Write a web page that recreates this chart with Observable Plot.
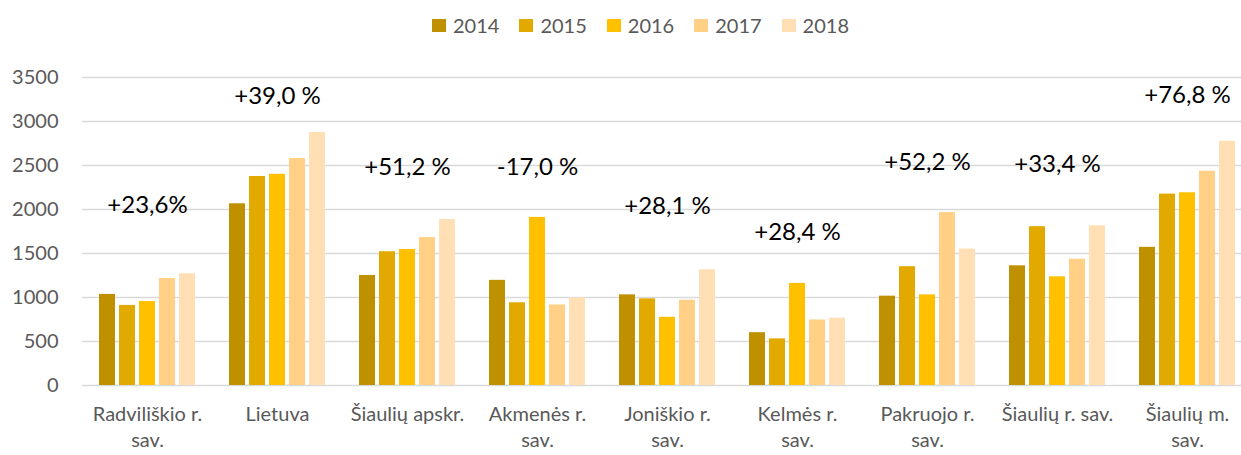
<!DOCTYPE html>
<html><head><meta charset="utf-8">
<script src="https://cdn.jsdelivr.net/npm/d3@7"></script>
<script src="https://cdn.jsdelivr.net/npm/@observablehq/plot@0.6"></script>
<style>
body{margin:0;background:#fff;font-family:Lato,sans-serif;overflow:hidden;}
#legend{height:44px;box-sizing:border-box;padding-top:6px;padding-left:40px;display:flex;justify-content:center;align-items:center;gap:20px;font-size:20px;color:#595959;}
.item{display:flex;align-items:center;gap:7px;line-height:1;}
.sw{width:14px;height:13px;display:inline-block;}
</style></head><body>
<div id="legend"></div>
<div id="chart"></div>
<script>
const categories = ["Radviliškio r. sav.", "Lietuva", "Šiaulių apskr.", "Akmenės r. sav.", "Joniškio r. sav.", "Kelmės r. sav.", "Pakruojo r. sav.", "Šiaulių r. sav.", "Šiaulių m. sav."];
const tickLabels = ["Radviliškio r.\nsav.", "Lietuva", "Šiaulių apskr.", "Akmenės r.\nsav.", "Joniškio r.\nsav.", "Kelmės r.\nsav.", "Pakruojo r.\nsav.", "Šiaulių r. sav.", "Šiaulių m.\nsav."];
const years = ["2014", "2015", "2016", "2017", "2018"];
const v2014 = [1035, 2065, 1250, 1195, 1030, 600, 1015, 1360, 1570];
const v2015 = [910, 2375, 1520, 940, 985, 530, 1350, 1805, 2175];
const v2016 = [955, 2400, 1545, 1910, 775, 1160, 1030, 1235, 2190];
const v2017 = [1215, 2580, 1680, 915, 970, 745, 1965, 1435, 2435];
const v2018 = [1270, 2875, 1885, 995, 1315, 765, 1550, 1815, 2775];
const changeLabels = ["+23,6%", "+39,0 %", "+51,2 %", "-17,0 %", "+28,1 %", "+28,4 %", "+52,2 %", "+33,4 %", "+76,8 %"];
const changeLabelY = [2050, 3290, 2480, 2480, 2040, 1740, 2540, 2510, 3300];
const yTicks = [0, 500, 1000, 1500, 2000, 2500, 3000, 3500];
const colors = ["#BF9000", "#E2AA00", "#FFC000", "#FFD085", "#FFDFB3"];

const series = [v2014, v2015, v2016, v2017, v2018];
const data = [];
categories.forEach((c, i) => years.forEach((yr, j) => data.push({category: c, year: yr, value: series[j][i]})));
const notes = categories.map((c, i) => ({category: c, label: changeLabels[i], y: changeLabelY[i]}));

// legend
const leg = document.getElementById("legend");
years.forEach((yr, j) => {
  const it = document.createElement("div"); it.className = "item";
  const sw = document.createElement("span"); sw.className = "sw"; sw.style.background = colors[j];
  const t = document.createElement("span"); t.textContent = yr;
  it.appendChild(sw); it.appendChild(t); leg.appendChild(it);
});

const chart = Plot.plot({
  width: 1241, height: 411,
  marginLeft: 81, marginRight: -11, marginTop: 33, marginBottom: 70,
  style: {fontFamily: "Lato, sans-serif", background: "white"},
  fx: {domain: categories, paddingInner: 0, paddingOuter: 0, label: null},
  x: {domain: years, paddingInner: 0.2, paddingOuter: 0.85, axis: null},
  y: {domain: [0, 3500], label: null},
  color: {domain: years, range: colors},
  marks: [
    Plot.gridY(yTicks, {stroke: "#d9d9d9", strokeOpacity: 1, strokeWidth: 1.3}),
    Plot.axisY(yTicks, {tickSize: 0, tickPadding: 24, fontSize: 20, color: "#595959", label: null, tickFormat: d => String(d)}),
    Plot.axisFx({anchor: "bottom", tickSize: 0, tickPadding: 17, fontSize: 20, color: "#595959", lineHeight: 1.3, label: null,
      tickFormat: d => tickLabels[categories.indexOf(d)]}),
    Plot.barY(data, {fx: "category", x: "year", y: "value", fill: "year"}),
    Plot.text(notes, {fx: "category", y: "y", text: "label", fontSize: 24, fill: "black"})
  ]
});
document.getElementById("chart").appendChild(chart);
</script>
</body></html>
